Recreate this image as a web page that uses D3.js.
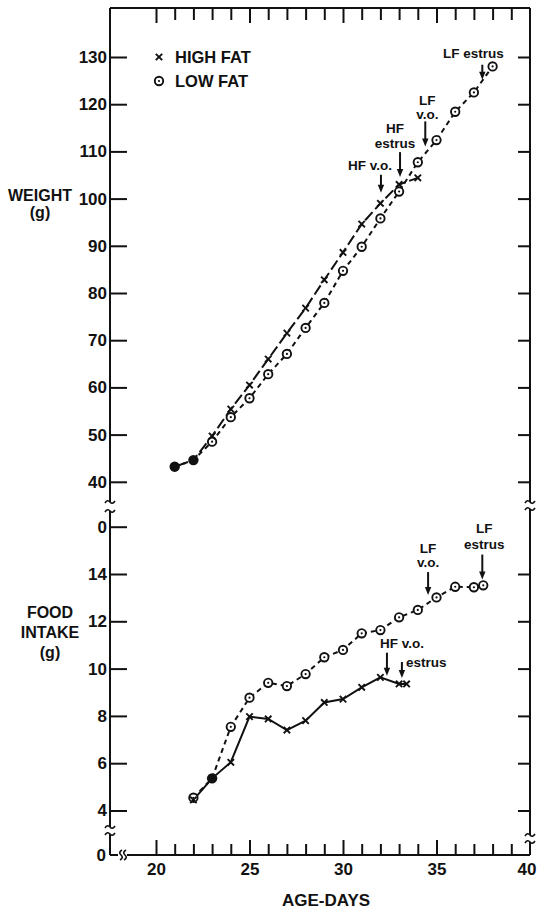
<!DOCTYPE html>
<html>
<head>
<meta charset="utf-8">
<script src="https://cdn.jsdelivr.net/npm/d3@7"></script>
<style>
  body { margin: 0; background: #fff; }
  svg text { font-family: "Liberation Sans", Arial, sans-serif; font-weight: bold; fill: #111; }
</style>
</head>
<body>
<svg id="chart" width="537" height="913"></svg>
<script>
// ---- data ----
const weightDaysLF = [21, 22, 23, 24, 25, 26, 27, 28, 29, 30, 31, 32, 33, 34, 35, 36, 37, 38];
const weightLF     = [43.2, 44.6, 48.5, 53.7, 57.7, 62.8, 67.1, 72.6, 77.9, 84.7, 89.8, 95.8, 101.5, 107.7, 112.4, 118.4, 122.5, 128.0];
const weightDaysHF = [21, 22, 23, 24, 25, 26, 27, 28, 29, 30, 31, 32, 33, 34];
const weightHF     = [43.2, 44.6, 49.7, 55.4, 60.5, 66.0, 71.5, 76.8, 82.8, 88.6, 94.6, 99.0, 103.0, 104.4];

const foodDaysLF = [22, 23, 24, 25, 26, 27, 28, 29, 30, 31, 32, 33, 34, 35, 36, 37, 37.5];
const foodLF     = [4.54, 5.36, 7.54, 8.77, 9.40, 9.26, 9.77, 10.48, 10.79, 11.49, 11.63, 12.17, 12.48, 13.01, 13.46, 13.44, 13.52];
const foodDaysHF = [22, 23, 24, 25, 26, 27, 28, 29, 30, 31, 32, 33, 33.4];
const foodHF     = [4.45, 5.36, 6.04, 7.97, 7.87, 7.40, 7.80, 8.57, 8.71, 9.21, 9.63, 9.35, 9.35];

const weightTicks = [40, 50, 60, 70, 80, 90, 100, 110, 120, 130];
const foodTicks = [4, 6, 8, 10, 12, 14, 16];
const foodTickLabels = ["4", "6", "8", "10", "12", "14", "0"];
const dayTicks = d3.range(20, 41);
const dayMajor = [20, 25, 30, 35, 40];
const legendLabels = ["HIGH FAT", "LOW FAT"];

// developmental events marked with arrows
const events = [
  { panel: "weight", group: "LF", day: 37.45, lines: ["LF estrus"] },
  { panel: "weight", group: "LF", day: 34.4,  lines: ["LF", "v.o."] },
  { panel: "weight", group: "HF", day: 33.05, lines: ["HF", "estrus"] },
  { panel: "weight", group: "HF", day: 32.03, lines: ["HF v.o."] },
  { panel: "food",   group: "LF", day: 37.45, lines: ["LF", "estrus"] },
  { panel: "food",   group: "LF", day: 34.55, lines: ["LF", "v.o."] },
  { panel: "food",   group: "HF", day: 32.35, lines: ["HF v.o."] },
  { panel: "food",   group: "HF", day: 33.15, lines: ["estrus"] }
];
// arrow / label placement for each event (same order)
const eventLayout = [
  { gap: 1, len: 15, dx: -9,  dy: -7, lh: 0,  anchor: "middle" },
  { gap: 7, len: 25, dx: 2,   dy: -2, lh: 14, anchor: "middle" },
  { gap: 7, len: 25, dx: -5,  dy: -4, lh: 15, anchor: "middle" },
  { gap: 10, len: 18, dx: -11, dy: -5, lh: 0, anchor: "middle" },
  { gap: 6, len: 25, dx: 2,   dy: -6, lh: 16, anchor: "middle" },
  { gap: 8, len: 23, dx: 0,   dy: -5, lh: 14, anchor: "middle" },
  { gap: 4, len: 23, dx: 15,  dy: -5, lh: 0,  anchor: "middle" },
  { gap: 6, len: 16, dx: 4,   dy: 5,  lh: 0,  anchor: "start" }
];

// ---- layout ----
const L = 110, R = 530, T = 8, B = 855;
const svg = d3.select("#chart");
const ink = "#111";

const x = d3.scaleLinear().domain([20, 40]).range([156, R]);
const yW = d3.scaleLinear().domain([40, 130]).range([481.8, 57]);
const yF = d3.scaleLinear().domain([4, 14]).range([810.5, 574]);

// ---- frame with axis breaks ----
const frame = svg.append("g").attr("stroke", ink).attr("stroke-width", 2).attr("fill", "none");
const segs = [
  [L, T, L, 502], [L, 511, L, 827], [L, 834, L, B],
  [R, T, R, 502], [R, 509, R, 835], [R, 842, R, B],
  [L, T, R, T],
  [L, B, 118, B], [127, B, R, B]
];
segs.forEach(s => frame.append("line").attr("x1", s[0]).attr("y1", s[1]).attr("x2", s[2]).attr("y2", s[3]));
// squiggle marks on the breaks
function hSquiggle(cx, cy) {
  frame.append("path").attr("stroke-width", 1.6)
    .attr("d", `M${cx - 5},${cy + 1} q2.5,-4 5,-1 t5,-1`);
}
function vSquiggle(cx, cy) {
  frame.append("path").attr("stroke-width", 1.6)
    .attr("d", `M${cx + 1},${cy - 5} q-4,2.5 -1,5 t-1,5`);
}
[[L, 502], [L, 511], [L, 827], [L, 834], [R, 502], [R, 509], [R, 835], [R, 842]].forEach(p => hSquiggle(p[0], p[1]));
vSquiggle(121, B); vSquiggle(125, B);

// ---- axes ----
function styleAxis(g) {
  g.select(".domain").remove();
  g.selectAll(".tick line").attr("stroke", ink).attr("stroke-width", 2);
  g.selectAll(".tick text").style("font-size", "17px").attr("fill", ink);
}
svg.append("g").attr("transform", `translate(${L},0)`)
  .call(d3.axisLeft(yW).tickValues(weightTicks).tickSize(-17).tickPadding(3).tickFormat(d3.format("d")))
  .call(styleAxis);
svg.append("g").attr("transform", `translate(${L},0)`)
  .call(d3.axisLeft(yF).tickValues(foodTicks).tickSize(-17).tickPadding(3)
    .tickFormat((d, i) => foodTickLabels[i]))
  .call(styleAxis);
svg.append("g").attr("transform", `translate(${R},0)`)
  .call(d3.axisRight(yW).tickValues(weightTicks).tickSize(-12).tickFormat(""))
  .call(styleAxis);
svg.append("g").attr("transform", `translate(${R},0)`)
  .call(d3.axisRight(yF).tickValues(foodTicks.slice(0, 6)).tickSize(-12).tickFormat(""))
  .call(styleAxis);

const innerTicks = dayTicks.filter(d => d < 40);
const bottomAx = svg.append("g").attr("transform", `translate(0,${B})`)
  .call(d3.axisBottom(x).tickValues(dayTicks).tickSize(-11).tickPadding(6)
    .tickFormat(d => dayMajor.includes(d) ? d : ""))
  .call(styleAxis);
bottomAx.selectAll(".tick line").attr("y2", d => d === 40 ? 0 : (d % 5 === 0 ? -15 : -11));
bottomAx.selectAll(".tick text").attr("y", 8).attr("dy", "0.71em");
// last label sits against the right edge
bottomAx.selectAll(".tick text").filter(d => d === 40).attr("text-anchor", "end").attr("x", 536 - R);

const topAx = svg.append("g").attr("transform", `translate(0,${T})`)
  .call(d3.axisTop(x).tickValues(innerTicks).tickSize(-12).tickFormat(""))
  .call(styleAxis);
topAx.selectAll(".tick line").attr("y2", d => d % 5 === 0 ? 15 : 12);

// extra label at the base of the broken axis
svg.append("text").attr("x", 106).attr("y", B + 6).attr("text-anchor", "end")
  .style("font-size", "17px").text("0");

// ---- axis titles ----
function multiText(lines, cx, y0, lh, size) {
  const t = svg.append("text").attr("text-anchor", "middle").style("font-size", size + "px");
  lines.forEach((s, i) => t.append("tspan").attr("x", cx).attr("y", y0 + i * lh).text(s));
}
multiText(["WEIGHT", "(g)"], 40, 201, 17, 16);
multiText(["FOOD", "INTAKE", "(g)"], 50, 618, 20, 16);
svg.append("text").attr("x", 326).attr("y", 906).attr("text-anchor", "middle")
  .style("font-size", "17px").text("AGE-DAYS");

// ---- series ----
function pairs(days, vals) { return days.map((d, i) => ({ d, v: vals[i] })); }
const panels = {
  weight: { y: yW, HF: pairs(weightDaysHF, weightHF), LF: pairs(weightDaysLF, weightLF), hfDash: "11,4" },
  food:   { y: yF, HF: pairs(foodDaysHF, foodHF),     LF: pairs(foodDaysLF, foodLF),     hfDash: null }
};

Object.values(panels).forEach(p => {
  const line = d3.line().x(q => x(q.d)).y(q => p.y(q.v));
  svg.append("path").datum(p.HF).attr("d", line).attr("fill", "none")
    .attr("stroke", ink).attr("stroke-width", 2).attr("stroke-dasharray", p.hfDash);
  svg.append("path").datum(p.LF).attr("d", line).attr("fill", "none")
    .attr("stroke", ink).attr("stroke-width", 2).attr("stroke-dasharray", "5,4");

  // both groups at the same value on the same day
  const coincide = q => p.HF.some(h => h.d === q.d && Math.abs(h.v - q.v) < 0.05) &&
                        p.LF.some(l => l.d === q.d && Math.abs(l.v - q.v) < 0.05);
  // low fat: dotted circles; filled where both groups coincide
  p.LF.forEach(q => {
    const cx = x(q.d), cy = p.y(q.v);
    if (coincide(q)) {
      svg.append("circle").attr("cx", cx).attr("cy", cy).attr("r", 5.2).attr("fill", ink);
    } else {
      svg.append("circle").attr("cx", cx).attr("cy", cy).attr("r", 4.2)
        .attr("fill", "#fff").attr("stroke", ink).attr("stroke-width", 1.9);
      svg.append("circle").attr("cx", cx).attr("cy", cy).attr("r", 1.1).attr("fill", ink);
    }
  });
  // high fat: x marks
  const hf = svg.append("g").attr("stroke", ink).attr("stroke-width", 1.9);
  p.HF.filter(q => !coincide(q)).forEach(q => {
    const cx = x(q.d), cy = p.y(q.v), s = 3.2;
    hf.append("line").attr("x1", cx - s).attr("y1", cy - s).attr("x2", cx + s).attr("y2", cy + s);
    hf.append("line").attr("x1", cx - s).attr("y1", cy + s).attr("x2", cx + s).attr("y2", cy - s);
  });
});

// ---- event arrows ----
function valueAt(series, day) {
  const i = d3.bisector(q => q.d).right(series, day);
  const a = series[Math.max(0, i - 1)], b = series[Math.min(series.length - 1, i)];
  if (a === b || b.d === a.d) return a.v;
  return a.v + (b.v - a.v) * (day - a.d) / (b.d - a.d);
}
events.forEach((e, i) => {
  const lay = eventLayout[i];
  const p = panels[e.panel];
  const ax = x(e.day);
  const tip = p.y(valueAt(p[e.group], e.day)) - lay.gap;
  const top = tip - lay.len;
  svg.append("line").attr("x1", ax).attr("y1", top).attr("x2", ax).attr("y2", tip - 6)
    .attr("stroke", ink).attr("stroke-width", 2);
  svg.append("path").attr("d", `M${ax - 3.2},${tip - 8} L${ax + 3.2},${tip - 8} L${ax},${tip} Z`).attr("fill", ink);
  const n = e.lines.length;
  const t = svg.append("text").attr("text-anchor", lay.anchor).style("font-size", "13.5px");
  e.lines.forEach((s, k) => {
    t.append("tspan").attr("x", ax + lay.dx).attr("y", top + lay.dy - (n - 1 - k) * lay.lh).text(s);
  });
});

// ---- legend ----
const lg = svg.append("g");
[0, 1].forEach(i => {
  const cx = 159, cy = 57 + i * 24;
  if (i === 0) {
    const s = 3.2;
    lg.append("line").attr("x1", cx - s).attr("y1", cy - s).attr("x2", cx + s).attr("y2", cy + s).attr("stroke", ink).attr("stroke-width", 1.9);
    lg.append("line").attr("x1", cx - s).attr("y1", cy + s).attr("x2", cx + s).attr("y2", cy - s).attr("stroke", ink).attr("stroke-width", 1.9);
  } else {
    lg.append("circle").attr("cx", cx).attr("cy", cy).attr("r", 4.2).attr("fill", "#fff").attr("stroke", ink).attr("stroke-width", 1.9);
    lg.append("circle").attr("cx", cx).attr("cy", cy).attr("r", 1.1).attr("fill", ink);
  }
  lg.append("text").attr("x", 175).attr("y", cy + 6).style("font-size", "16.5px").text(legendLabels[i]);
});
</script>
</body>
</html>
